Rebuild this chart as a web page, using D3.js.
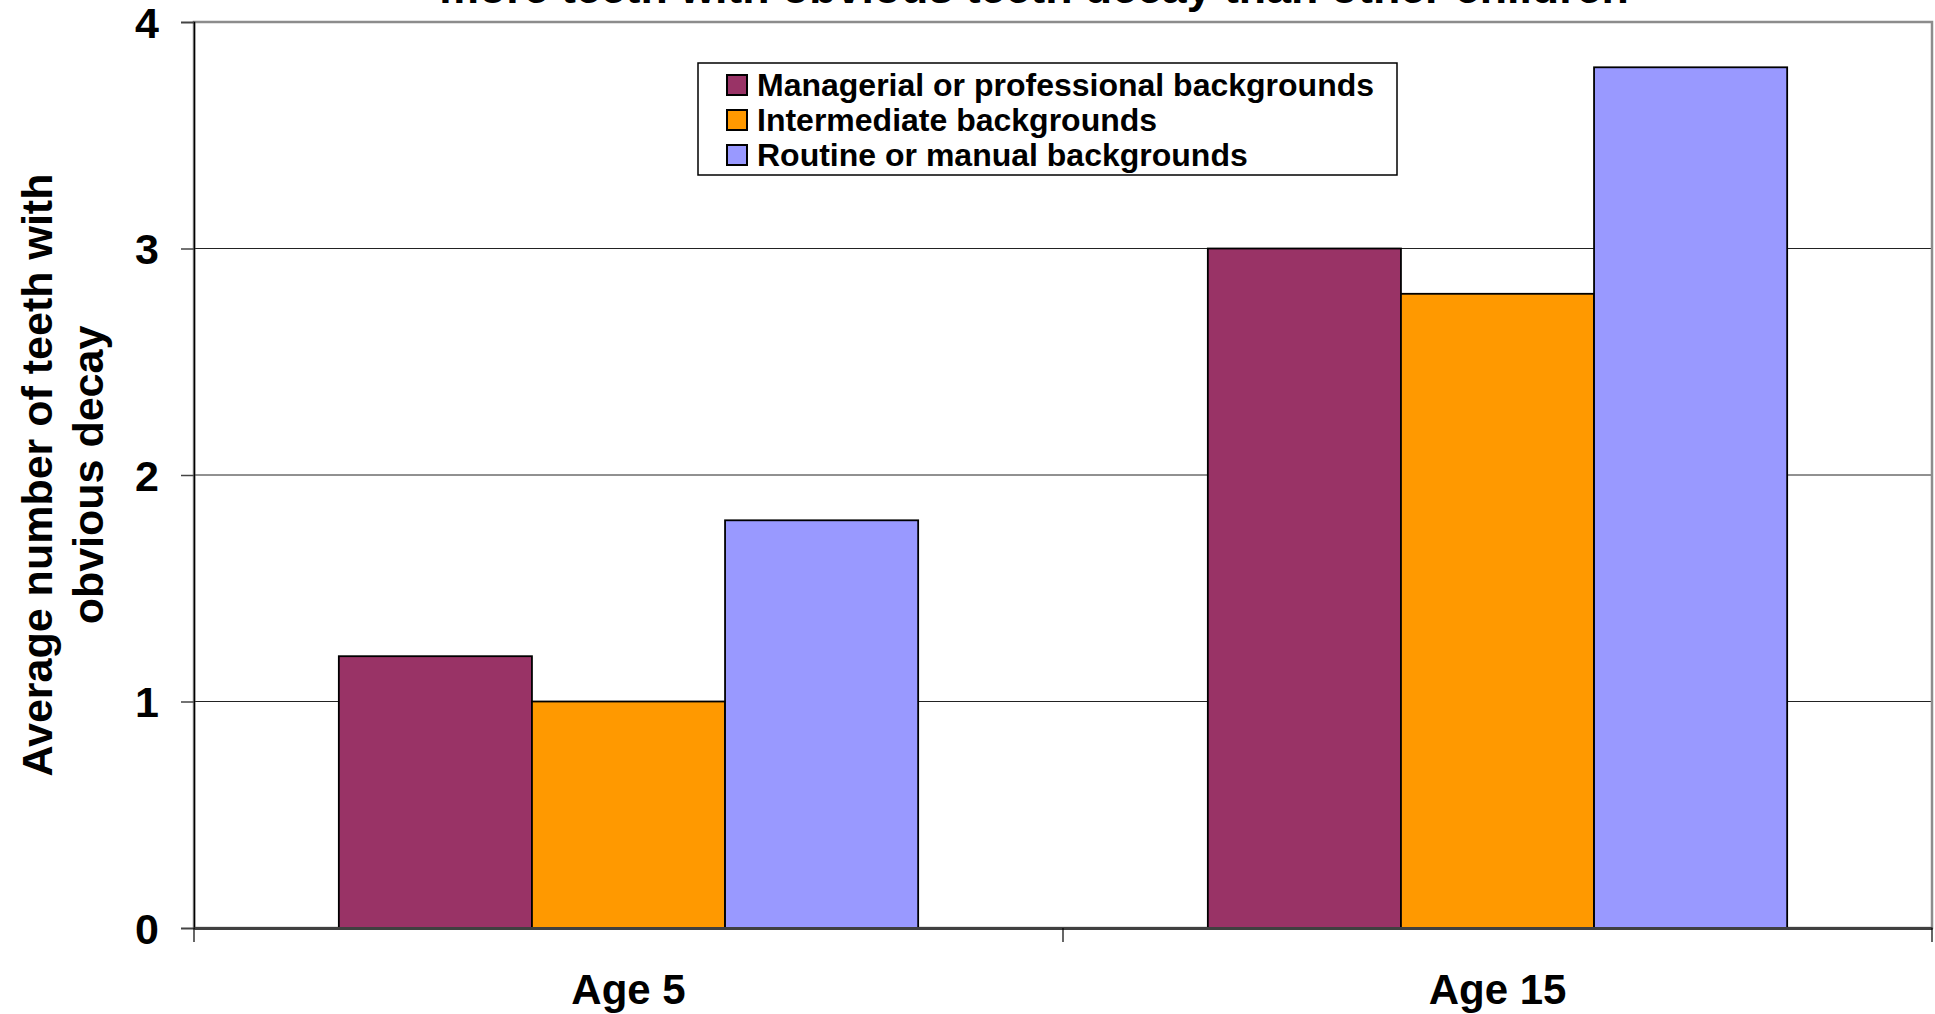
<!DOCTYPE html>
<html>
<head>
<meta charset="utf-8">
<script src="https://cdn.jsdelivr.net/npm/d3@7"></script>
<style>
  html, body { margin: 0; padding: 0; background: #fff; }
  svg { display: block; font-family: "Liberation Sans", Arial, sans-serif; font-weight: bold; }
</style>
</head>
<body>
<svg class="chart" width="1935" height="1014"></svg>
<script>
// data
const ages = ['Age 5', 'Age 15'];
const groups = ['Managerial or professional backgrounds', 'Intermediate backgrounds', 'Routine or manual backgrounds'];
const managerial = [1.2, 3.0];
const intermediate = [1.0, 2.8];
const routine = [1.8, 3.8];
const yTicks = [0, 1, 2, 3, 4];
const colors = ['#993366', '#FF9900', '#9999FF'];
const titleText = 'more teeth with obvious teeth decay than other children';
const yTitle = ['Average number of teeth with', 'obvious decay'];

const series = [managerial, intermediate, routine];
const margin = { l: 194, r: 3, t: 22, b: 86 };
const width = 1935, height = 1014;

const svg = d3.select('.chart');

const scaleX = d3.scaleBand()
  .domain(ages)
  .range([margin.l, width - margin.r])
  .paddingInner(0).paddingOuter(0);
const scaleInner = d3.scaleBand()
  .domain(groups)
  .range([0, scaleX.bandwidth()])
  .paddingInner(0).paddingOuter(0.75);
const scaleY = d3.scaleLinear()
  .domain([0, 4])
  .range([height - margin.b, margin.t]);

// title, mostly cut off at the top (as in the source image)
svg.append('text')
  .attr('x', 1034)
  .attr('y', 3)
  .attr('text-anchor', 'middle')
  .attr('font-size', 44.7)
  .text(titleText);

// grid lines
svg.append('g')
  .selectAll('line')
  .data(yTicks.filter(d => d > 0 && d < 4))
  .enter().append('line')
  .attr('x1', margin.l).attr('x2', width - margin.r)
  .attr('y1', d => scaleY(d)).attr('y2', d => scaleY(d))
  .attr('stroke', '#222').attr('stroke-width', 1);

// plot border
svg.append('rect')
  .attr('x', margin.l).attr('y', margin.t)
  .attr('width', width - margin.r - margin.l)
  .attr('height', scaleY(0) - margin.t)
  .attr('fill', 'none')
  .attr('stroke', '#8c8c8c')
  .attr('stroke-width', 2.5);

// bars
const rows = [];
ages.forEach((a, i) => {
  groups.forEach((g, j) => rows.push({ age: a, group: g, value: series[j][i], c: colors[j] }));
});
svg.append('g')
  .selectAll('rect')
  .data(rows)
  .enter().append('rect')
  .attr('x', d => scaleX(d.age) + scaleInner(d.group))
  .attr('y', d => scaleY(d.value))
  .attr('width', scaleInner.bandwidth())
  .attr('height', d => scaleY(0) - scaleY(d.value))
  .attr('fill', d => d.c)
  .attr('stroke', '#000')
  .attr('stroke-width', 1.8);

// y axis
const yAxis = svg.append('g')
  .attr('transform', `translate(${margin.l}, 0)`)
  .call(d3.axisLeft(scaleY).tickValues(yTicks).tickSize(13).tickPadding(22).tickFormat(d3.format('d')));
yAxis.select('.domain').attr('stroke', '#000').attr('stroke-width', 1.5);
yAxis.selectAll('.tick line').attr('stroke', '#444').attr('stroke-width', 1.5);
yAxis.selectAll('.tick text')
  .attr('font-size', 43)
  .attr('font-family', '"Liberation Sans", Arial, sans-serif')
  .attr('font-weight', 'bold')
  .attr('fill', '#000')
  .attr('dy', '0.36em');

// x axis
const xAxis = svg.append('g')
  .attr('transform', `translate(0, ${scaleY(0)})`)
  .call(d3.axisBottom(scaleX).tickSize(0).tickPadding(46));
xAxis.select('.domain').attr('stroke', '#404040').attr('stroke-width', 3);
xAxis.selectAll('.tick text')
  .attr('font-size', 42)
  .attr('font-family', '"Liberation Sans", Arial, sans-serif')
  .attr('font-weight', 'bold')
  .attr('fill', '#000')
  .attr('dy', '0.71em');
// category boundary ticks
const bounds = ages.map(a => scaleX(a)).concat([scaleX.range()[1]]);
svg.append('g')
  .selectAll('line')
  .data(bounds)
  .enter().append('line')
  .attr('x1', d => d).attr('x2', d => d)
  .attr('y1', scaleY(0)).attr('y2', scaleY(0) + 14)
  .attr('stroke', '#000').attr('stroke-width', 1.2);

// y axis title
const yLab = svg.append('text')
  .attr('transform', `translate(0, ${(scaleY(0) + scaleY(4)) / 2}) rotate(-90)`)
  .attr('text-anchor', 'middle')
  .attr('font-size', 43);
yLab.selectAll('tspan')
  .data(yTitle)
  .enter().append('tspan')
  .attr('x', 0)
  .attr('y', (d, i) => 52 + i * 51)
  .text(d => d);

// legend
const legend = svg.append('g').attr('transform', 'translate(698, 63)');
legend.append('rect')
  .attr('width', 699).attr('height', 112)
  .attr('fill', '#fff').attr('stroke', '#000').attr('stroke-width', 1.5);
const item = legend.selectAll('.item')
  .data(groups)
  .enter().append('g')
  .attr('class', 'item')
  .attr('transform', (d, i) => `translate(0, ${i * 35})`);
item.append('rect')
  .attr('x', 29).attr('y', 12)
  .attr('width', 20).attr('height', 20)
  .attr('fill', (d, i) => colors[i])
  .attr('stroke', '#000').attr('stroke-width', 2);
item.append('text')
  .attr('x', 59).attr('y', 33)
  .attr('font-size', 32)
  .text(d => d);
</script>
</body>
</html>
